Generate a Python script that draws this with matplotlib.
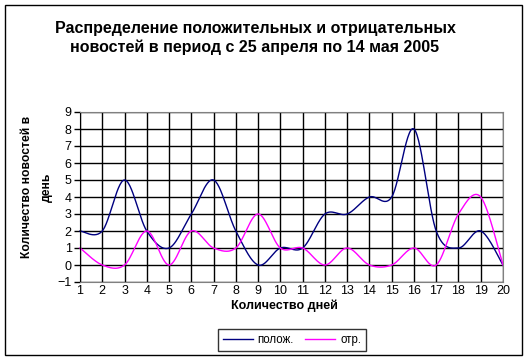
import numpy as np
import matplotlib
matplotlib.use("Agg")
import matplotlib.pyplot as plt
from matplotlib.patches import Rectangle

plt.rcParams['font.family'] = ['Liberation Sans', 'DejaVu Sans']

# --- data ---
days = list(range(1, 21))
pos_news = [2, 2, 5, 2, 1, 3, 5, 2, 0, 1, 1, 3, 3, 4, 4, 8, 2, 1, 2, 0]
neg_news = [1, 0, 0, 2, 0, 2, 1, 1, 3, 1, 1, 0, 1, 0, 0, 1, 0, 3, 4, 0]
y_ticks = list(range(-1, 10))

title = "Распределение положительных и отрицательных\nновостей в период с 25 апреля по 14 мая 2005"
xlabel = "Количество дней"
ylabel = "Количество новостей в\nдень"
labels = ["полож.", "отр."]
colors = ["#000080", "#FF00FF"]


def smooth(x, y, n=30):
    # Excel-like smoothed line: cubic Bezier with Catmull-Rom control points
    x = np.asarray(x, float)
    y = np.asarray(y, float)
    px = np.concatenate([[x[0]], x, [x[-1]]])
    py = np.concatenate([[y[0]], y, [y[-1]]])
    t = np.linspace(0, 1, n)[:, None]
    xs, ys = [], []
    for i in range(1, len(px) - 2):
        p0 = np.array([px[i], py[i]])
        p3 = np.array([px[i + 1], py[i + 1]])
        c1 = p0 + (np.array([px[i + 1], py[i + 1]]) - np.array([px[i - 1], py[i - 1]])) / 6
        c2 = p3 - (np.array([px[i + 2], py[i + 2]]) - np.array([px[i], py[i]])) / 6
        b = ((1 - t) ** 3) * p0 + 3 * ((1 - t) ** 2) * t * c1 + 3 * (1 - t) * t ** 2 * c2 + t ** 3 * p3
        xs.append(b[:, 0])
        ys.append(b[:, 1])
    return np.concatenate(xs), np.concatenate(ys)


fig = plt.figure(figsize=(5.29, 3.61), dpi=100)
fig.patches.append(Rectangle((5 / 529, 1 - 355 / 361), 517 / 529, 350 / 361,
                             transform=fig.transFigure, fill=False,
                             edgecolor="black", linewidth=1))

ax = fig.add_axes([80 / 529, 1 - 282 / 361, 423 / 529, 170 / 361])
ax.set_xlim(1, 20)
ax.set_ylim(-1, 9)
ax.set_xticks(days)
ax.set_yticks(y_ticks)
ax.grid(True, color="black", linewidth=1)
ax.set_axisbelow(True)
for side in ["top", "right", "bottom"]:
    ax.spines[side].set_color("#808080")
ax.spines["left"].set_color("black")
ax.tick_params(axis="both", labelsize=9, length=4, width=1, direction="out", pad=2)
ax.tick_params(axis="x", length=0, pad=2)

for vals, lab, col in zip([pos_news, neg_news], labels, colors):
    sx, sy = smooth(days, vals)
    ax.plot(sx, sy, color=col, linewidth=1, label=lab, clip_on=False)

fig.text(284 / 529, 1 - 306 / 361, xlabel, ha="center", va="center",
         fontsize=9, fontweight="bold")
fig.text(37 / 529, 1 - 187 / 361, ylabel, ha="center", va="center", rotation=90,
         fontsize=8.7, fontweight="bold", linespacing=1.8)
fig.text(255 / 529, 1 - 38 / 361, title, ha="center", va="center",
         fontsize=11.5, fontweight="bold", linespacing=1.25)

leg = fig.legend(loc="center", bbox_to_anchor=(292 / 529, 1 - 340 / 361), ncol=2,
                 fontsize=8.3, frameon=True, fancybox=False, edgecolor="black",
                 handlelength=2.6, columnspacing=1.0, handletextpad=0.4,
                 borderpad=0.4, borderaxespad=0)
leg.get_frame().set_linewidth(1)

fig.savefig("out.png", dpi=100)
